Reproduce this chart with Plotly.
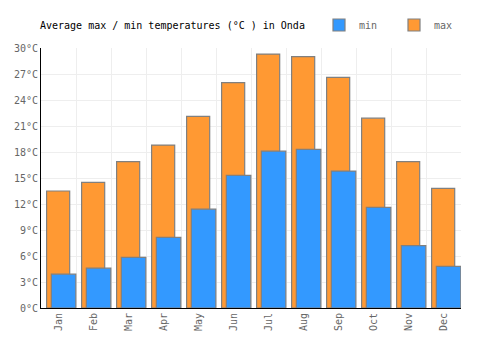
import plotly.graph_objects as go

months = ["Jan", "Feb", "Mar", "Apr", "May", "Jun", "Jul", "Aug", "Sep", "Oct", "Nov", "Dec"]
t_max = [13.5, 14.5, 16.9, 18.8, 22.1, 26.0, 29.3, 29.0, 26.6, 21.9, 16.9, 13.8]
t_min = [3.9, 4.6, 5.85, 8.15, 11.4, 15.3, 18.1, 18.3, 15.8, 11.6, 7.2, 4.8]
y_ticks = list(range(0, 31, 3))
y_labels = [f"{v}°C" for v in y_ticks]

FONT = "DejaVu Sans Mono"

fig = go.Figure()
fig.add_trace(go.Bar(
    x=months, y=t_max, name="max",
    width=0.66, offset=-0.34,
    marker=dict(color="#FF9933", line=dict(color="#808080", width=1.2)),
    legendrank=2, hoverinfo="skip",
))
fig.add_trace(go.Bar(
    x=months, y=t_min, name="min",
    width=0.70, offset=-0.205,
    marker=dict(color="#3399FF", line=dict(color="#808080", width=1.2)),
    legendrank=1, hoverinfo="skip",
))

fig.update_layout(
    width=500, height=350,
    margin=dict(l=41, r=39, t=48, b=42, autoexpand=False),
    paper_bgcolor="white", plot_bgcolor="white",
    barmode="overlay",
    font=dict(family=FONT, size=10, color="#666666"),
    title=dict(text="Average max / min temperatures (°C ) in Onda",
               x=40/500, xanchor="left", y=1-25/350, yanchor="middle",
               font=dict(family=FONT, size=10, color="#000000")),
    legend=dict(orientation="h", x=469/500, xanchor="right", y=1-25/350, yanchor="middle",
                yref="container", xref="container",
                font=dict(family=FONT, size=10, color="#666666"),
                itemwidth=30, entrywidth=30, entrywidthmode="pixels",
                bgcolor="rgba(0,0,0,0)", traceorder="normal"),
    xaxis=dict(type="category", tickson="boundaries", showgrid=True, gridcolor="#eeeeee",
               gridwidth=1, tickangle=-90, ticks="", showline=True, linecolor="#000000",
               linewidth=1, range=[-0.5, 11.5], fixedrange=True),
    yaxis=dict(range=[0, 30], tickmode="array", tickvals=y_ticks, ticktext=y_labels,
               showgrid=True, gridcolor="#eeeeee", gridwidth=1, zeroline=False, showline=True,
               linecolor="#000000", linewidth=1, ticks="", fixedrange=True),
    showlegend=True,
)

fig.write_html("out.html")
